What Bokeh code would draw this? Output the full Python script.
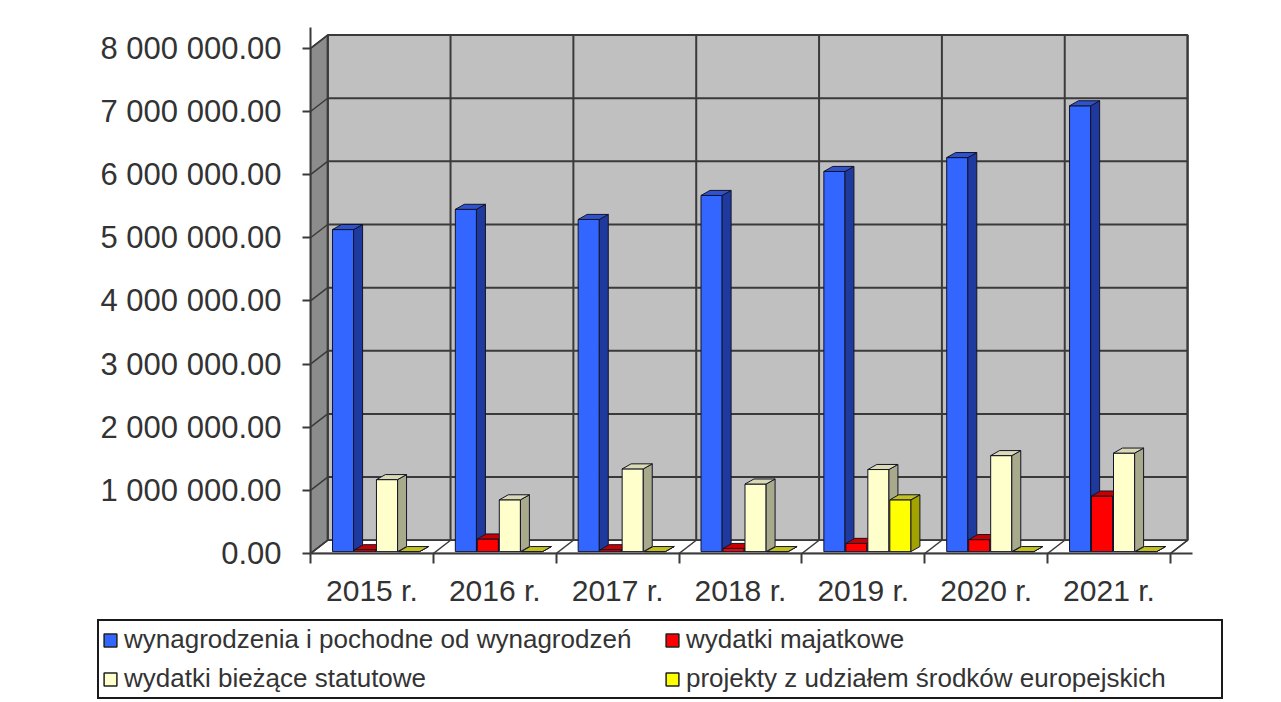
from bokeh.plotting import figure
from bokeh.models import Range1d, FixedTicker, Legend, LegendItem
from bokeh.layouts import column
from bokeh.embed import file_html
from bokeh.resources import INLINE

# ---------------- data ----------------
years = ["2015 r.", "2016 r.", "2017 r.", "2018 r.", "2019 r.", "2020 r.", "2021 r."]
series_names = [
    "wynagrodzenia i pochodne od wynagrodzeń",
    "wydatki majatkowe",
    "wydatki bieżące statutowe",
    "projekty z udziałem środków europejskich",
]
wynagrodzenia = [5100000, 5420000, 5260000, 5640000, 6020000, 6240000, 7060000]
majatkowe = [30000, 200000, 30000, 50000, 130000, 190000, 880000]
statutowe = [1140000, 820000, 1310000, 1070000, 1300000, 1520000, 1560000]
projekty = [0, 0, 0, 0, 820000, 0, 0]
y_ticks = [0, 1000000, 2000000, 3000000, 4000000, 5000000, 6000000, 7000000, 8000000]

# ---------------- styling / geometry ----------------
front_colors = ["#3366FF", "#FF0000", "#FFFFCC", "#FFFF00"]
side_colors = ["#1F3A9E", "#990000", "#A9A98C", "#A3A300"]
top_colors = ["#2F52CF", "#C80000", "#DADAB4", "#C2C21A"]
edge_color = "#141428"

n = len(years)
DX, DY = 0.14, 0.21e6          # wall depth offset
BW, BSTEP, BX0 = 0.172, 0.179, 0.179
BDX, BDY = 0.073, 0.08e6       # bar depth offset
BASE = 0.03e6
YMAX = y_ticks[-1]

p = figure(width=1275, height=610, output_backend="svg", toolbar_location=None,
           x_range=Range1d(0, 7.18), y_range=Range1d(0, 8.33e6),
           min_border_left=310, min_border_right=83, min_border_top=27, min_border_bottom=57,
           frame_align=False)
p.grid.visible = False
p.outline_line_color = None
p.background_fill_color = "white"
p.border_fill_color = "white"

grid_col = "#3A3A3A"

# back wall
p.patch([DX, n + DX, n + DX, DX], [DY, DY, YMAX + DY, YMAX + DY],
        fill_color="#C0C0C0", line_color=grid_col, line_width=2)
# left wall
p.patch([0, DX, DX, 0], [0, DY, YMAX + DY, YMAX],
        fill_color="#8C8C8C", line_color=grid_col, line_width=1.5)
# floor
p.patch([0, n, n + DX, DX], [0, 0, DY, DY],
        fill_color="#FFFFFF", line_color=grid_col, line_width=1.5)

# horizontal gridlines (back wall + left wall)
inner = y_ticks[1:-1]
p.segment(x0=[DX] * len(inner), y0=[t + DY for t in inner],
          x1=[n + DX] * len(inner), y1=[t + DY for t in inner],
          line_color=grid_col, line_width=2)
p.segment(x0=[0] * len(y_ticks), y0=y_ticks,
          x1=[DX] * len(y_ticks), y1=[t + DY for t in y_ticks],
          line_color=grid_col, line_width=1.5)
# vertical gridlines (back wall + floor)
bounds = list(range(n + 1))
p.segment(x0=[b + DX for b in bounds], y0=[DY] * len(bounds),
          x1=[b + DX for b in bounds], y1=[YMAX + DY] * len(bounds),
          line_color=grid_col, line_width=2)
p.segment(x0=bounds, y0=[0] * len(bounds),
          x1=[b + DX for b in bounds], y1=[DY] * len(bounds),
          line_color=grid_col, line_width=1.5)

# legend figure (holds the legend below the chart)
pl = figure(width=1275, height=90, output_backend="svg", toolbar_location=None,
            x_range=Range1d(0, 1), y_range=Range1d(0, 1),
            min_border_left=0, min_border_right=0, min_border_top=0, min_border_bottom=0,
            x_axis_location=None, y_axis_location=None, frame_align=False)
pl.grid.visible = False
pl.outline_line_color = None
pl.background_fill_color = "white"
pl.border_fill_color = "white"

# bars
legend_items = []
for k, vals in enumerate([wynagrodzenia, majatkowe, statutowe, projekty]):
    x0 = [i + BX0 + k * BSTEP for i in range(n)]
    x1 = [a + BW for a in x0]
    tops = [BASE + v for v in vals]
    side_xs = [[b, b + BDX, b + BDX, b] for b in x1]
    side_ys = [[BASE, BASE + BDY, t + BDY, t] for t in tops]
    top_xs = [[a, b, b + BDX, a + BDX] for a, b in zip(x0, x1)]
    top_ys = [[t, t, t + BDY, t + BDY] for t in tops]
    p.quad(left=x0, right=x1, bottom=[BASE] * n, top=tops,
           fill_color=front_colors[k], line_color=edge_color, line_width=1)
    p.patches(side_xs, side_ys, fill_color=side_colors[k], line_color=edge_color, line_width=1)
    p.patches(top_xs, top_ys, fill_color=top_colors[k], line_color=edge_color, line_width=1)
    # legend proxy glyph (lies outside the legend figure's visible range)
    sw = pl.quad(left=[2], right=[3], bottom=[2], top=[3],
                 fill_color=front_colors[k], line_color="#202020", line_width=1.5)
    legend_items.append(LegendItem(label=series_names[k], renderers=[sw]))

# axes
label_col = "#333333"
p.yaxis.ticker = FixedTicker(ticks=y_ticks)
p.yaxis.major_label_overrides = {t: f"{t:,.2f}".replace(",", " ") for t in y_ticks}
p.yaxis.major_label_text_font = "Liberation Sans"
p.yaxis.major_label_text_font_size = "31px"
p.yaxis.major_label_text_color = label_col
p.yaxis.major_label_standoff = 21
p.yaxis.major_tick_out = 8
p.yaxis.major_tick_in = 0
p.yaxis.major_tick_line_width = 2
p.yaxis.major_tick_line_color = grid_col
p.yaxis.minor_tick_line_color = None
p.yaxis.axis_line_color = grid_col
p.yaxis.axis_line_width = 2

centers = [i + 0.5 for i in range(n)]
p.xaxis.ticker = FixedTicker(ticks=centers, minor_ticks=bounds)
p.xaxis.major_label_overrides = {c: y for c, y in zip(centers, years)}
p.xaxis.major_label_text_font = "Liberation Sans"
p.xaxis.major_label_text_font_size = "30px"
p.xaxis.major_label_text_color = label_col
p.xaxis.major_label_standoff = 10
p.xaxis.major_tick_out = 0
p.xaxis.major_tick_in = 0
p.xaxis.minor_tick_out = 10
p.xaxis.minor_tick_in = 0
p.xaxis.minor_tick_line_width = 2
p.xaxis.minor_tick_line_color = grid_col
p.xaxis.axis_line_color = grid_col
p.xaxis.axis_line_width = 2

legend = Legend(items=legend_items, location=(97, 1), orientation="horizontal", ncols=2,
                label_text_font="Liberation Sans", label_text_font_size="26px",
                label_text_color=label_col, glyph_width=16, glyph_height=16,
                label_standoff=6, label_width=532, label_height=30, spacing=8,
                padding=3, margin=0, border_line_color="#1A1A1A", border_line_width=2,
                border_line_alpha=1.0,
                background_fill_color="white", background_fill_alpha=1.0)
pl.add_layout(legend, "center")

layout = column(p, pl, spacing=0)
open("out.html", "w").write(file_html(layout, INLINE))
